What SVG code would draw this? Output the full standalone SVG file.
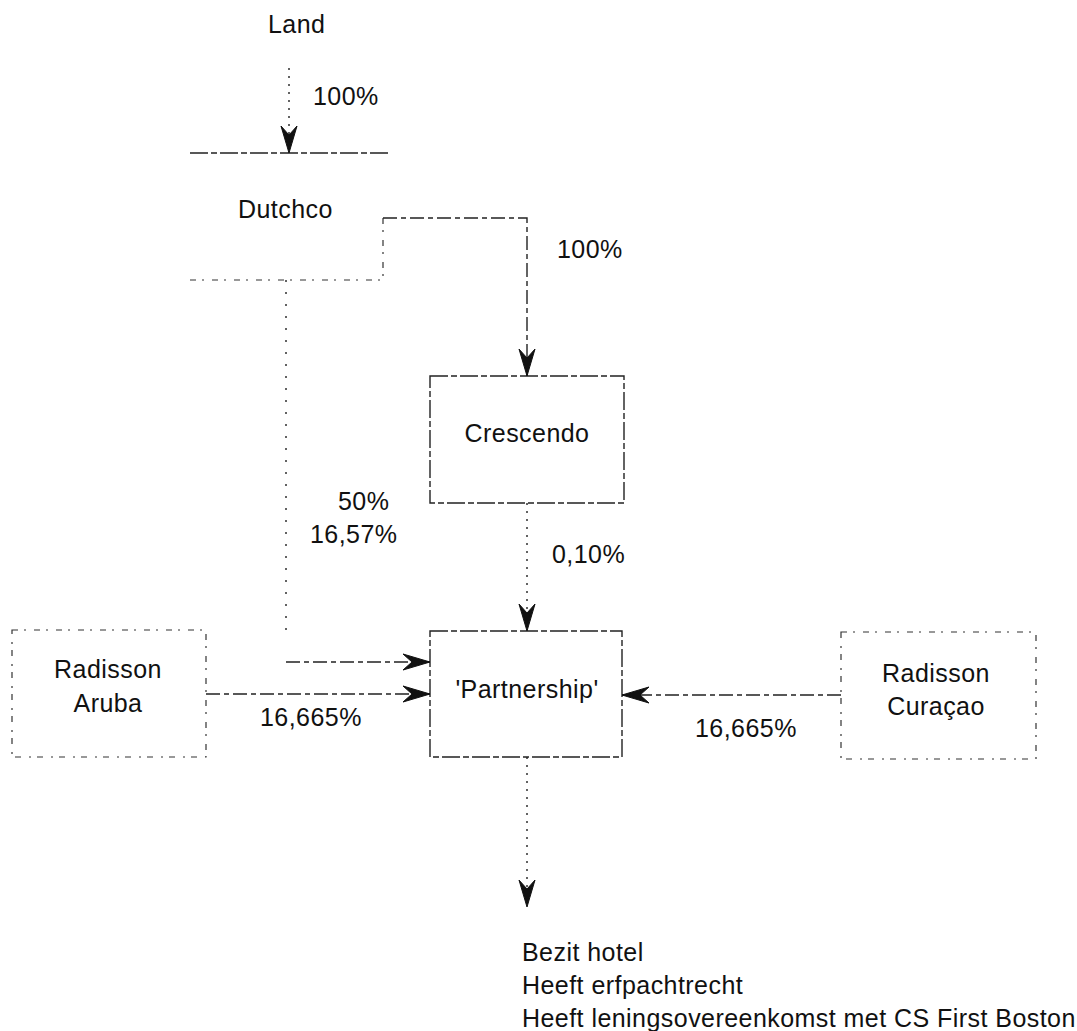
<svg xmlns="http://www.w3.org/2000/svg" width="1077" height="1031" viewBox="0 0 1077 1031">
<style>
text{font-family:"Liberation Sans",Arial,sans-serif;font-size:25px;letter-spacing:0.45px;fill:#111}
.c{text-anchor:middle}
.edge{fill:none;stroke:#222;stroke-width:1.4;stroke-dasharray:18 3 6 3}
.faint{fill:none;stroke:#333;stroke-width:1.2;stroke-dasharray:6 6 2 8}
.conn{fill:none;stroke:#222;stroke-width:1.4}
.dash{stroke-dasharray:14 4 5 4}
.dot{stroke-dasharray:2 6}
.sparse{stroke-dasharray:2 10}
</style>
<defs>
<marker id="arr" markerUnits="userSpaceOnUse" markerWidth="32" markerHeight="22" viewBox="-30 -11 32 22" refX="0" refY="0" orient="auto">
<path d="M0,0 L-27,-8 L-18,0 L-27,8 Z" fill="#111" stroke="#111" stroke-width="1"/>
</marker>
</defs>
<rect width="1077" height="1031" fill="#fff"/>

<g id="land">
<text x="268" y="33">Land</text>
</g>

<g id="dutchco">
<line class="edge" x1="190" y1="153" x2="388" y2="153"/>
<line class="faint" x1="383" y1="218" x2="383" y2="280"/>
<line class="faint" x1="190" y1="280" x2="383" y2="280"/>
<text x="238" y="218">Dutchco</text>
</g>

<g id="crescendo">
<rect class="edge" x="430" y="376" width="194" height="127"/>
<text class="c" x="527" y="442">Crescendo</text>
</g>

<g id="partnership">
<rect class="edge" x="430" y="631" width="192" height="126"/>
<text class="c" x="527" y="698">'Partnership'</text>
</g>

<g id="radisson-aruba">
<rect class="faint" x="12" y="630" width="194" height="127"/>
<text class="c" x="108" y="678">Radisson</text>
<text class="c" x="108" y="712">Aruba</text>
</g>

<g id="radisson-curacao">
<rect class="faint" x="841" y="632" width="195" height="127"/>
<text class="c" x="936" y="682">Radisson</text>
<text class="c" x="936" y="715">Curaçao</text>
</g>

<g id="hotel-notes">
<text x="522" y="961">Bezit hotel</text>
<text x="522" y="994">Heeft erfpachtrecht</text>
<text x="522" y="1027">Heeft leningsovereenkomst met CS First Boston</text>
</g>

<g id="connectors">
<path class="conn dot" d="M289,68 V153" marker-end="url(#arr)"/>
<path class="conn dash" d="M383,218 H527 V376" marker-end="url(#arr)"/>
<path class="conn dot" d="M527,503 V631" marker-end="url(#arr)"/>
<path class="conn sparse" d="M286,280 V640"/>
<path class="conn dash" d="M286,662 H430" marker-end="url(#arr)"/>
<path class="conn dash" d="M206,694 H430" marker-end="url(#arr)"/>
<path class="conn dash" d="M841,695 H622" marker-end="url(#arr)"/>
<path class="conn dot" d="M527,757 V907" marker-end="url(#arr)"/>
<text x="313" y="105">100%</text>
<text x="557" y="258">100%</text>
<text x="338" y="510">50%</text>
<text x="310" y="543">16,57%</text>
<text x="552" y="563">0,10%</text>
<text x="260" y="726">16,665%</text>
<text x="695" y="737">16,665%</text>
</g>
</svg>
